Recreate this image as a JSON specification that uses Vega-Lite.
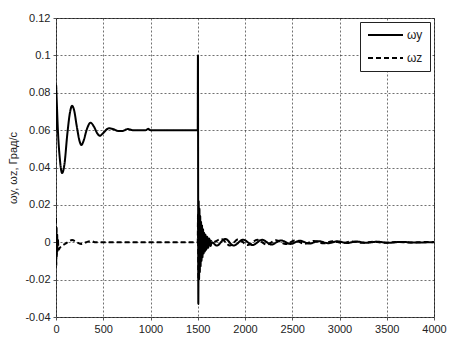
{
  "$schema": "https://vega.github.io/schema/vega-lite/v6.json",
  "width": 378,
  "height": 299,
  "autosize": {"type": "none"},
  "padding": {"left": 56, "top": 18, "right": 27, "bottom": 29},
  "background": "white",
  "config": {
    "font": "Liberation Sans",
    "view": {"stroke": "#555", "strokeWidth": 1},
    "axis": {
      "labelFont": "Liberation Sans",
      "labelFontSize": 11,
      "labelColor": "#222",
      "titleFont": "Liberation Sans",
      "titleFontWeight": "normal",
      "titleColor": "#222",
      "grid": true,
      "gridColor": "#000",
      "gridDash": [2, 2],
      "gridOpacity": 0.7,
      "gridWidth": 0.8,
      "domain": false,
      "tickColor": "#555",
      "tickSize": 3
    }
  },
  "data": {
    "values": [
      {"t": 0, "v": 0.06, "s": "ωy"},
      {"t": 1, "v": 0.084, "s": "ωy"},
      {"t": 6, "v": 0.078, "s": "ωy"},
      {"t": 20, "v": 0.06, "s": "ωy"},
      {"t": 40, "v": 0.045, "s": "ωy"},
      {"t": 65, "v": 0.037, "s": "ωy"},
      {"t": 90, "v": 0.042, "s": "ωy"},
      {"t": 120, "v": 0.058, "s": "ωy"},
      {"t": 150, "v": 0.07, "s": "ωy"},
      {"t": 170, "v": 0.073, "s": "ωy"},
      {"t": 190, "v": 0.071, "s": "ωy"},
      {"t": 220, "v": 0.062, "s": "ωy"},
      {"t": 250, "v": 0.054, "s": "ωy"},
      {"t": 270, "v": 0.052, "s": "ωy"},
      {"t": 290, "v": 0.054, "s": "ωy"},
      {"t": 330, "v": 0.061, "s": "ωy"},
      {"t": 365, "v": 0.064, "s": "ωy"},
      {"t": 400, "v": 0.062, "s": "ωy"},
      {"t": 440, "v": 0.058, "s": "ωy"},
      {"t": 465, "v": 0.057, "s": "ωy"},
      {"t": 500, "v": 0.0585, "s": "ωy"},
      {"t": 560, "v": 0.061, "s": "ωy"},
      {"t": 610, "v": 0.0605, "s": "ωy"},
      {"t": 660, "v": 0.0595, "s": "ωy"},
      {"t": 700, "v": 0.0595, "s": "ωy"},
      {"t": 760, "v": 0.0606, "s": "ωy"},
      {"t": 810, "v": 0.06, "s": "ωy"},
      {"t": 950, "v": 0.06, "s": "ωy"},
      {"t": 975, "v": 0.0607, "s": "ωy"},
      {"t": 1000, "v": 0.06, "s": "ωy"},
      {"t": 1500, "v": 0.06, "s": "ωy"},
      {"t": 1502, "v": 0.1, "s": "ωy"},
      {"t": 1506, "v": -0.033, "s": "ωy"},
      {"t": 1510, "v": 0.022, "s": "ωy"},
      {"t": 1514, "v": -0.02, "s": "ωy"},
      {"t": 1518, "v": 0.018, "s": "ωy"},
      {"t": 1522, "v": -0.016, "s": "ωy"},
      {"t": 1526, "v": 0.014, "s": "ωy"},
      {"t": 1530, "v": -0.013, "s": "ωy"},
      {"t": 1535, "v": 0.011, "s": "ωy"},
      {"t": 1540, "v": -0.01, "s": "ωy"},
      {"t": 1545, "v": 0.009, "s": "ωy"},
      {"t": 1550, "v": -0.008, "s": "ωy"},
      {"t": 1556, "v": 0.007, "s": "ωy"},
      {"t": 1562, "v": -0.006, "s": "ωy"},
      {"t": 1568, "v": 0.005, "s": "ωy"},
      {"t": 1575, "v": -0.005, "s": "ωy"},
      {"t": 1582, "v": 0.004, "s": "ωy"},
      {"t": 1590, "v": -0.004, "s": "ωy"},
      {"t": 1600, "v": 0.003, "s": "ωy"},
      {"t": 1610, "v": -0.003, "s": "ωy"},
      {"t": 1620, "v": 0.002, "s": "ωy"},
      {"t": 1635, "v": -0.002, "s": "ωy"},
      {"t": 1650, "v": 0.0, "s": "ωy"},
      {"t": 1700, "v": -0.0018, "s": "ωy"},
      {"t": 1790, "v": 0.0018, "s": "ωy"},
      {"t": 1880, "v": -0.0018, "s": "ωy"},
      {"t": 1980, "v": 0.0014, "s": "ωy"},
      {"t": 2080, "v": -0.0015, "s": "ωy"},
      {"t": 2180, "v": 0.0013, "s": "ωy"},
      {"t": 2280, "v": -0.0012, "s": "ωy"},
      {"t": 2380, "v": 0.001, "s": "ωy"},
      {"t": 2480, "v": -0.0009, "s": "ωy"},
      {"t": 2580, "v": 0.0008, "s": "ωy"},
      {"t": 2680, "v": -0.0007, "s": "ωy"},
      {"t": 2780, "v": 0.0006, "s": "ωy"},
      {"t": 2880, "v": -0.0005, "s": "ωy"},
      {"t": 2980, "v": 0.0005, "s": "ωy"},
      {"t": 3080, "v": -0.0004, "s": "ωy"},
      {"t": 3180, "v": 0.0004, "s": "ωy"},
      {"t": 3280, "v": -0.0003, "s": "ωy"},
      {"t": 3400, "v": 0.0003, "s": "ωy"},
      {"t": 3520, "v": -0.0003, "s": "ωy"},
      {"t": 3650, "v": 0.0002, "s": "ωy"},
      {"t": 3800, "v": -0.0002, "s": "ωy"},
      {"t": 4000, "v": 0.0001, "s": "ωy"},
      {"t": 0, "v": 0.013, "s": "ωz"},
      {"t": 3, "v": -0.013, "s": "ωz"},
      {"t": 6, "v": 0.008, "s": "ωz"},
      {"t": 9, "v": -0.008, "s": "ωz"},
      {"t": 12, "v": 0.005, "s": "ωz"},
      {"t": 16, "v": -0.005, "s": "ωz"},
      {"t": 20, "v": 0.002, "s": "ωz"},
      {"t": 26, "v": -0.004, "s": "ωz"},
      {"t": 40, "v": -0.003, "s": "ωz"},
      {"t": 60, "v": -0.002, "s": "ωz"},
      {"t": 100, "v": -0.0008, "s": "ωz"},
      {"t": 170, "v": 0.0012, "s": "ωz"},
      {"t": 220, "v": 0.0, "s": "ωz"},
      {"t": 270, "v": -0.0009, "s": "ωz"},
      {"t": 320, "v": 0.0, "s": "ωz"},
      {"t": 370, "v": 0.0006, "s": "ωz"},
      {"t": 420, "v": 0.0, "s": "ωz"},
      {"t": 500, "v": 0.0, "s": "ωz"},
      {"t": 1500, "v": 0.0, "s": "ωz"},
      {"t": 1503, "v": 0.015, "s": "ωz"},
      {"t": 1507, "v": -0.02, "s": "ωz"},
      {"t": 1511, "v": 0.016, "s": "ωz"},
      {"t": 1515, "v": -0.015, "s": "ωz"},
      {"t": 1519, "v": 0.013, "s": "ωz"},
      {"t": 1523, "v": -0.012, "s": "ωz"},
      {"t": 1528, "v": 0.01, "s": "ωz"},
      {"t": 1533, "v": -0.009, "s": "ωz"},
      {"t": 1538, "v": 0.008, "s": "ωz"},
      {"t": 1544, "v": -0.007, "s": "ωz"},
      {"t": 1550, "v": 0.006, "s": "ωz"},
      {"t": 1557, "v": -0.005, "s": "ωz"},
      {"t": 1564, "v": 0.004, "s": "ωz"},
      {"t": 1572, "v": -0.004, "s": "ωz"},
      {"t": 1580, "v": 0.003, "s": "ωz"},
      {"t": 1590, "v": -0.003, "s": "ωz"},
      {"t": 1600, "v": 0.002, "s": "ωz"},
      {"t": 1615, "v": -0.002, "s": "ωz"},
      {"t": 1630, "v": 0.001, "s": "ωz"},
      {"t": 1660, "v": 0.0, "s": "ωz"},
      {"t": 1750, "v": 0.0018, "s": "ωz"},
      {"t": 1840, "v": -0.0018, "s": "ωz"},
      {"t": 1930, "v": 0.0016, "s": "ωz"},
      {"t": 2030, "v": -0.0015, "s": "ωz"},
      {"t": 2130, "v": 0.0013, "s": "ωz"},
      {"t": 2230, "v": -0.0012, "s": "ωz"},
      {"t": 2330, "v": 0.0011, "s": "ωz"},
      {"t": 2430, "v": -0.001, "s": "ωz"},
      {"t": 2530, "v": 0.0009, "s": "ωz"},
      {"t": 2630, "v": -0.0008, "s": "ωz"},
      {"t": 2730, "v": 0.0007, "s": "ωz"},
      {"t": 2830, "v": -0.0006, "s": "ωz"},
      {"t": 2930, "v": 0.0005, "s": "ωz"},
      {"t": 3030, "v": -0.0004, "s": "ωz"},
      {"t": 3130, "v": 0.0004, "s": "ωz"},
      {"t": 3240, "v": -0.0003, "s": "ωz"},
      {"t": 3360, "v": 0.0003, "s": "ωz"},
      {"t": 3480, "v": -0.0003, "s": "ωz"},
      {"t": 3600, "v": 0.0002, "s": "ωz"},
      {"t": 3750, "v": -0.0002, "s": "ωz"},
      {"t": 3900, "v": 0.0001, "s": "ωz"},
      {"t": 4000, "v": 0.0, "s": "ωz"}
    ]
  },
  "mark": {"type": "line", "color": "black", "strokeWidth": 2, "clip": true, "interpolate": "monotone"},
  "encoding": {
    "x": {
      "field": "t", "type": "quantitative",
      "scale": {"domain": [0, 4000], "nice": false, "zero": false},
      "axis": {"title": null, "values": [0, 500, 1000, 1500, 2000, 2500, 3000, 3500, 4000], "format": "d", "labelPadding": 3, "labelFlush": false}
    },
    "y": {
      "field": "v", "type": "quantitative",
      "scale": {"domain": [-0.04, 0.12], "nice": false, "zero": false},
      "axis": {
        "title": "ωy,  ωz,  Град/с",
        "titleFontSize": 11,
        "titlePadding": 6,
        "values": [-0.04, -0.02, 0, 0.02, 0.04, 0.06, 0.08, 0.1, 0.12],
        "labelExpr": "toString(datum.value)",
        "labelPadding": 3
      }
    },
    "strokeDash": {
      "field": "s", "type": "nominal",
      "scale": {"domain": ["ωy", "ωz"], "range": [[1, 0], [5, 3]]},
      "legend": {
        "title": null,
        "orient": "top-right",
        "offset": 4,
        "padding": 7,
        "strokeColor": "#222",
        "fillColor": "white",
        "symbolType": "M-1,0H6",
        "symbolSize": 100,
        "symbolStrokeWidth": 2,
        "symbolStrokeColor": "black",
        "symbolFillColor": "transparent",
        "labelFontSize": 12,
        "labelFont": "Liberation Sans",
        "labelColor": "#222",
        "rowPadding": 11,
        "labelOffset": 28
      }
    }
  }
}
